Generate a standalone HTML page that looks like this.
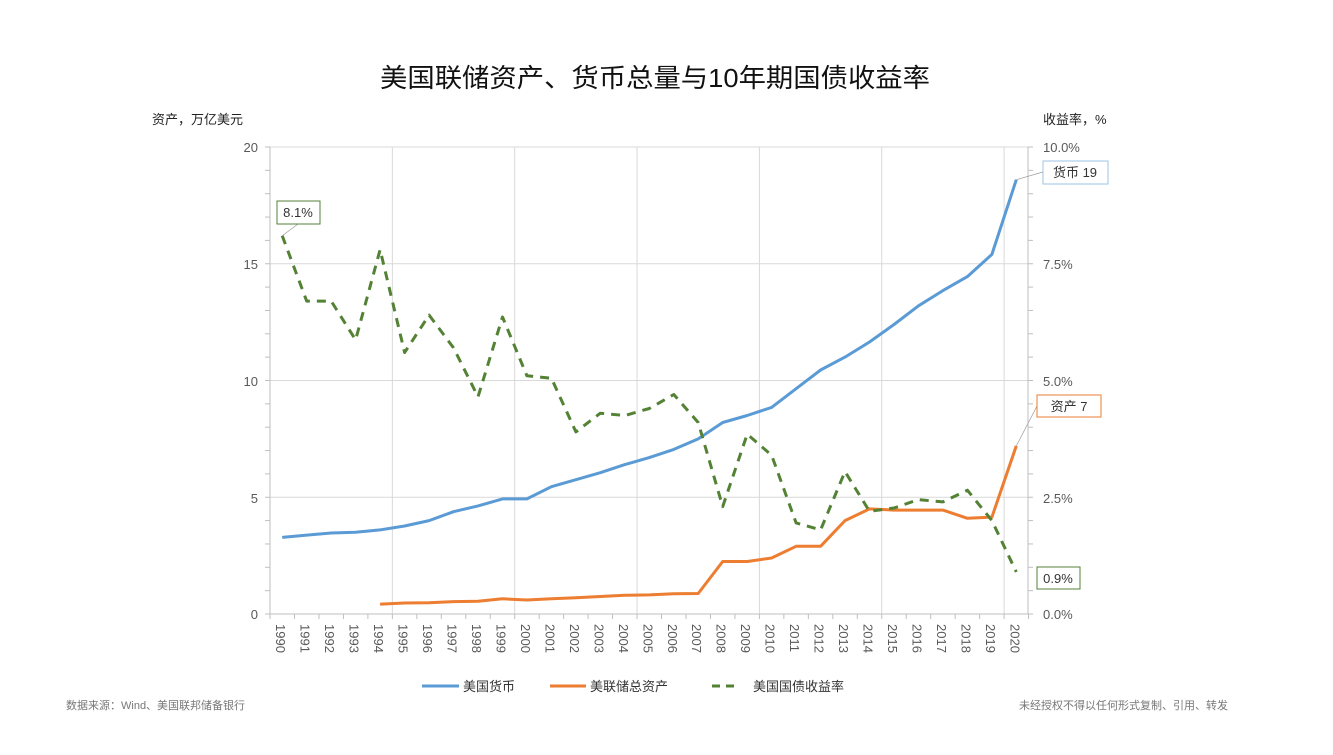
<!DOCTYPE html>
<html><head><meta charset="utf-8"><style>
body{margin:0;background:#fff;}
svg text{font-family:"Liberation Sans","Noto Sans CJK SC",sans-serif;}
</style></head><body>
<svg id="s" width="1333" height="750" xmlns="http://www.w3.org/2000/svg">
<rect width="1333" height="750" fill="#fff"/>
<text x="655" y="87" text-anchor="middle" font-size="26" fill="#111" textLength="550" lengthAdjust="spacingAndGlyphs">美国联储资产、货币总量与10年期国债收益率</text>
<text x="152" y="124" font-size="13" fill="#222">资产，万亿美元</text>
<text x="1043" y="124" font-size="13" fill="#222">收益率，%</text>
<g id="g"></g>
<g font-size="13" fill="#595959">
<text x="258" y="152" text-anchor="end">20</text>
<text x="258" y="269" text-anchor="end">15</text>
<text x="258" y="386" text-anchor="end">10</text>
<text x="258" y="503" text-anchor="end">5</text>
<text x="258" y="619" text-anchor="end">0</text>
<text x="1043" y="152">10.0%</text>
<text x="1043" y="269">7.5%</text>
<text x="1043" y="386">5.0%</text>
<text x="1043" y="503">2.5%</text>
<text x="1043" y="619">0.0%</text>
</g>
<rect x="277" y="201" width="43" height="23" fill="#fff" stroke="#548235"/>
<text x="298" y="217" text-anchor="middle" font-size="13" fill="#333">8.1%</text>
<rect x="1043" y="161" width="65" height="23" fill="#fff" stroke="#9dc3e6"/>
<text x="1075" y="177" text-anchor="middle" font-size="13" fill="#333">货币 19</text>
<rect x="1037" y="395" width="64" height="22" fill="#fff" stroke="#ed7d31"/>
<text x="1069" y="411" text-anchor="middle" font-size="13" fill="#333">资产 7</text>
<rect x="1037" y="567" width="43" height="22" fill="#fff" stroke="#548235"/>
<text x="1058" y="583" text-anchor="middle" font-size="13" fill="#333">0.9%</text>
<line x1="422" y1="686" x2="459" y2="686" stroke="#5b9bd5" stroke-width="3"/>
<text x="463" y="691" font-size="13" fill="#333">美国货币</text>
<line x1="550" y1="686" x2="586" y2="686" stroke="#ed7d31" stroke-width="3"/>
<text x="590" y="691" font-size="13" fill="#333">美联储总资产</text>
<line x1="712" y1="686" x2="736" y2="686" stroke="#548235" stroke-width="3" stroke-dasharray="8,6"/>
<text x="753" y="691" font-size="13" fill="#333">美国国债收益率</text>
<text x="66" y="709" font-size="11" fill="#777">数据来源：Wind、美国联邦储备银行</text>
<text x="1228" y="709" font-size="11" fill="#777" text-anchor="end">未经授权不得以任何形式复制、引用、转发</text>
</svg>
<script>
var g=document.getElementById('g'),h='';
var L=270,W=24.47,T=147,B=614;
function X(i){return L+W*(i+0.5);}
function Y(v){return B-v*(B-T)/20;}
function Yr(v){return B-v*(B-T)/10;}
for(var v=5;v<=20;v+=5)h+='<line x1="'+L+'" x2="1028" y1="'+Y(v)+'" y2="'+Y(v)+'" stroke="#d9d9d9"/>';
for(var k=1;k<=6;k++){var x=L+W*5*k;if(x>1028)break;h+='<line x1="'+x+'" x2="'+x+'" y1="'+T+'" y2="'+B+'" stroke="#d9d9d9"/>';}
h+='<line x1="'+L+'" x2="'+L+'" y1="'+T+'" y2="'+B+'" stroke="#bfbfbf"/>';
h+='<line x1="1028" x2="1028" y1="'+T+'" y2="'+B+'" stroke="#bfbfbf"/>';
h+='<line x1="'+L+'" x2="1028" y1="'+B+'" y2="'+B+'" stroke="#bfbfbf"/>';
for(var v=0;v<=20;v++){h+='<line x1="'+(L-5)+'" x2="'+L+'" y1="'+Y(v)+'" y2="'+Y(v)+'" stroke="#bfbfbf"/>';h+='<line x1="1028" x2="1033" y1="'+Y(v)+'" y2="'+Y(v)+'" stroke="#bfbfbf"/>';}
for(var i=0;i<=31;i++){var x=L+W*i;h+='<line x1="'+x+'" x2="'+x+'" y1="'+B+'" y2="'+(B+5)+'" stroke="#bfbfbf"/>';}
for(var i=0;i<31;i++){var x=X(i)-6,y=624;h+='<text font-size="13" fill="#595959" transform="translate('+x+','+y+') rotate(90)">'+(1990+i)+'</text>';}
var m=[3.28,3.38,3.47,3.5,3.6,3.77,4.0,4.38,4.63,4.93,4.93,5.45,5.75,6.05,6.4,6.7,7.05,7.5,8.2,8.5,8.85,9.65,10.45,11.0,11.65,12.4,13.2,13.85,14.45,15.4,18.6];
var a=[null,null,null,null,0.42,0.47,0.48,0.53,0.55,0.65,0.6,0.65,0.7,0.75,0.8,0.82,0.87,0.88,2.25,2.25,2.4,2.9,2.9,4.0,4.5,4.45,4.45,4.45,4.1,4.15,7.2];
var r=[8.1,6.7,6.7,5.87,7.8,5.6,6.4,5.7,4.65,6.36,5.1,5.05,3.9,4.3,4.25,4.4,4.7,4.1,2.3,3.85,3.4,1.95,1.8,3.05,2.2,2.27,2.45,2.4,2.65,2.0,0.9];
function pl(d,f,c,extra){var p=[];d.forEach(function(v,i){if(v!=null)p.push(X(i).toFixed(1)+','+f(v).toFixed(1));});return '<polyline fill="none" stroke="'+c+'" stroke-width="3" stroke-linejoin="round" '+extra+' points="'+p.join(' ')+'"/>';}
h+=pl(m,Y,'#5b9bd5','');
h+=pl(a,Y,'#ed7d31','');
h+=pl(r,Yr,'#548235','stroke-dasharray="9,7"');
h+='<line x1="'+X(0)+'" y1="'+Yr(8.1)+'" x2="298" y2="224" stroke="#999" stroke-width="0.7"/>';
h+='<line x1="'+X(30)+'" y1="'+Y(18.6)+'" x2="1043" y2="172" stroke="#999" stroke-width="0.7"/>';
h+='<line x1="'+X(30)+'" y1="'+Y(7.2)+'" x2="1037" y2="406" stroke="#999" stroke-width="0.7"/>';
g.innerHTML=h;
</script>
</body></html>
